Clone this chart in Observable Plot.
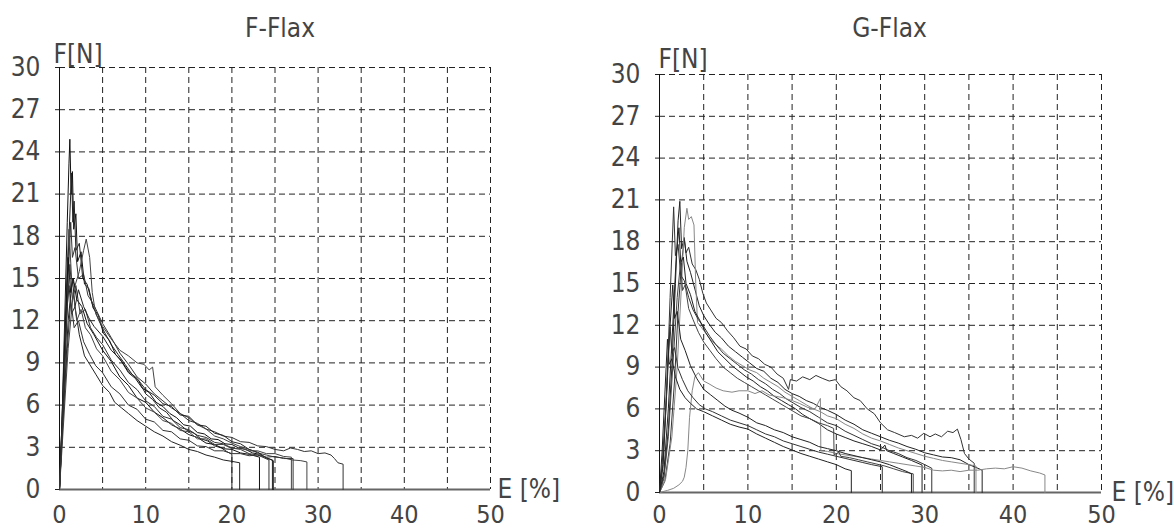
<!DOCTYPE html>
<html><head><meta charset="utf-8">
<script src="https://cdn.jsdelivr.net/npm/d3@7"></script>
<script src="https://cdn.jsdelivr.net/npm/@observablehq/plot@0.6"></script>
<style>
body{margin:0;background:#fff;}
#wrap{position:relative;width:1174px;height:531px;overflow:hidden;}
#wrap svg{position:absolute;top:0;}
</style></head><body><div id="wrap"></div>
<script>
// ---------- data ----------
const xTicks = [0, 10, 20, 30, 40, 50];
const yTicks = [0, 3, 6, 9, 12, 15, 18, 21, 24, 27, 30];
const xGrid = [5, 10, 15, 20, 25, 30, 35, 40, 45, 50];
const yGrid = [3, 6, 9, 12, 15, 18, 21, 24, 27, 30];
const titles = ["F-Flax", "G-Flax"];
const yLabel = "F[N]";
const xLabel = "E [%]";

// F-Flax specimens: [strain %, force N]
const f1 = [[0,0],[0.3,5],[0.6,12],[0.9,19],[1.1,23.2],[1.2,24.9],[1.35,21],[1.5,22.6],[1.65,18.5],[1.9,19.6],[2.1,16.2],[2.5,16.9],[2.9,14.6],[3.4,14.3],[3.9,12.9],[4.5,12.4],[5.1,11.1],[5.8,10.6],[6.5,9.6],[7.2,9.1],[8,8.3],[8.8,7.9],[9.6,7.2],[10.4,6.9],[11.2,6.2],[12,5.9],[12.8,5.4],[13.6,5.1],[14.4,4.6],[15.2,4.5],[16,4.05],[16.8,3.95],[17.6,3.6],[18.4,3.55],[19.2,3.25],[20,3.2],[20.8,2.95],[21.6,2.85],[22.4,2.6],[23.2,2.5],[24,2.25],[24.8,2.05],[24.8,0]];
const f2 = [[0,0],[0.4,6],[0.8,13],[1.1,18],[1.4,22.5],[1.55,19],[1.7,20.5],[1.9,17],[2.3,17.5],[2.7,15],[3.2,14.6],[3.8,13.2],[4.5,12.1],[5.2,11.2],[6,10.3],[6.8,9.6],[7.6,8.9],[8.4,8.2],[9.2,7.7],[10,6.8],[10.8,6.4],[11.6,5.8],[12.4,5.5],[13.2,4.9],[14,4.6],[14.8,4.2],[15.6,4.0],[16.4,3.6],[17.2,3.45],[18,3.1],[18.8,2.95],[19.4,2.7],[20,2.5],[20,0]];
const f3 = [[0,0],[0.3,4],[0.7,10],[1,15],[1.3,19],[1.5,16.5],[1.8,17.2],[2.2,15],[2.8,15.3],[3.3,13.8],[4,13.1],[5,11.8],[6,10.8],[7,9.7],[8,8.9],[9,8.0],[10,7.5],[11,6.8],[12,6.3],[13,5.8],[14,5.4],[15,4.9],[16,4.7],[17,4.3],[18,4.1],[19,3.8],[20,3.7],[21,3.4],[22,3.35],[23,3.1],[24,3.05],[25,2.85],[26,2.75],[26.8,2.95],[27.6,2.85],[28.4,2.7],[29.2,2.75],[30,2.55],[30.8,2.6],[31.5,2.45],[31.9,2.2],[32.3,1.9],[32.9,1.8],[32.9,0]];
const f4 = [[0,0],[0.3,5],[0.6,11],[0.9,16],[1.1,18.5],[1.4,15],[1.8,14.5],[2.3,15.5],[2.8,17],[3.1,17.8],[3.5,16.5],[3.8,14],[4.2,12.5],[5,11.6],[6,10.7],[7,9.9],[8,9.5],[9,9.0],[9.8,8.9],[10.4,8.5],[10.8,8.7],[11.1,7.3],[12,6.7],[13,6.1],[14,5.4],[15,5.1],[16,4.6],[17,4.3],[18,3.8],[19,3.6],[20,3.3],[21,3.05],[22,2.85],[23,2.6],[24,2.45],[25,2.3],[26,2.25],[27,2.1],[28,2.05],[28.7,1.96],[28.7,0]];
const f5 = [[0,0],[0.3,4],[0.6,9],[0.9,13],[1.1,14.5],[1.4,12.5],[1.8,13],[2.3,11],[2.9,9.5],[3.5,8.9],[4.2,8.2],[5,7.4],[5.8,6.9],[6.4,6.2],[7.2,5.8],[8,5.4],[9,4.9],[10,4.5],[11,4.1],[12,3.8],[13,3.4],[14,3.15],[15,2.85],[16,2.7],[17,2.45],[18,2.3],[19,2.1],[20,2.0],[20.9,1.9],[20.9,0]];
const f6 = [[0,0],[0.3,5],[0.7,12],[1,16.5],[1.3,14],[1.6,15],[2,13.5],[2.6,13],[3.2,11.8],[4,11],[5,9.9],[6,9.1],[7,8.0],[8,7.4],[9,6.5],[10,6.2],[11,5.5],[12,5.1],[13,4.6],[14,4.3],[15,3.9],[16,3.7],[17,3.3],[18,3.2],[19,2.9],[20,2.85],[21,2.6],[22,2.5],[23.2,2.3],[23.2,0]];
const f7 = [[0,0],[0.4,6],[0.8,12],[1.2,16],[1.5,13.5],[1.9,14.5],[2.4,12.5],[3,12.8],[3.6,11.5],[4.3,10.8],[5,10.3],[6,9.2],[7,8.5],[8,7.6],[9,7.1],[10,6.3],[11,5.9],[12,5.2],[13,5.0],[14,4.4],[15,4.25],[16,3.85],[17,3.7],[18,3.35],[19,3.25],[20,2.95],[21,2.85],[22,2.55],[23,2.45],[24.3,2.1],[24.3,0]];
const f8 = [[0,0],[0.5,6],[1,12],[1.5,15],[1.8,13],[2.2,14.2],[2.8,13],[3.4,12.2],[4,11.6],[5,10.9],[6,9.9],[7,9.3],[8,8.4],[9,7.9],[10,7.1],[11,6.7],[12,6.1],[13,5.9],[14,5.3],[15,5.2],[16,4.6],[17,4.5],[18,4.0],[19,3.85],[20,3.4],[21,3.25],[22,2.85],[23,2.65],[24,2.25],[24.7,2.1],[24.7,0]];
const f9 = [[0,0],[0.5,5],[1,10],[1.6,14],[2,12],[2.5,12.8],[3,11.5],[3.6,11],[4.3,10],[5,9.5],[6,8.4],[7,7.8],[8,6.9],[9,6.5],[10,5.8],[11,5.5],[12,4.9],[13,4.7],[14,4.2],[15,4.1],[16,3.6],[17,3.6],[18,3.2],[19,3.2],[20,2.9],[21,2.95],[22,2.75],[23,2.75],[24,2.55],[25,2.55],[26,2.35],[26.9,2.3],[26.9,0]];
const f10 = [[0,0],[0.4,5],[0.9,10],[1.3,13.5],[1.7,11.5],[2.2,12],[2.8,10.5],[3.5,9.6],[4.2,8.8],[5,8.3],[6,7.3],[7,6.8],[8,6.0],[9,5.7],[10,5.0],[11,4.8],[12,4.2],[13,4.1],[14,3.6],[15,3.5],[16,3.1],[17,3.05],[18,2.75],[19,2.75],[20,2.55],[21,2.55],[22,2.4],[23,2.45],[24,2.3],[25,2.35],[26,2.2],[27.1,2.2],[27.1,0]];
const fFlax = [f1, f2, f3, f4, f5, f6, f7, f8, f9, f10];

// G-Flax specimens
const g1 = [[0,0],[0.6,0.8],[1.2,3.5],[1.7,8],[2.1,13],[2.5,16.5],[2.8,18.2],[3,17.2],[3.3,17.6],[3.7,16.4],[4.1,16],[4.5,15.3],[4.9,14.3],[5.3,13.6],[5.8,13.1],[6.4,12.5],[7,12.2],[7.7,11.6],[8.4,11.1],[9.1,10.5],[9.8,10.3],[10.5,9.8],[11.2,9.6],[11.9,9.2],[12.6,9.0],[13.3,8.5],[14,8.2],[14.6,7.4],[14.8,8.1],[15.5,8.0],[16.2,8.3],[17,8.1],[17.7,8.4],[18.4,8.2],[19.2,8.0],[19.9,8.1],[20.5,7.6],[21.2,7.3],[22,6.8],[22.7,6.6],[23.5,6.0],[24.3,5.65],[25,5.0],[25.8,4.5],[26.6,4.3],[27.7,4.0],[28.5,4.1],[29.2,3.9],[29.9,4.25],[30.6,4.0],[31.2,4.2],[31.9,4.0],[32.6,4.4],[33.2,4.3],[33.7,4.55],[34.1,3.8],[34.5,2.8],[35,2.4],[35.6,2.1],[35.6,0]];
const g2 = [[0,0],[0.5,1.2],[1,4.5],[1.4,9],[1.8,15],[2.1,19.5],[2.3,20.9],[2.5,17.5],[2.8,18.3],[3.1,16.6],[3.5,15.8],[4,14.6],[4.5,13.4],[5,12.7],[5.6,12.1],[6.3,11.5],[7,11.1],[7.8,10.5],[8.6,10.1],[9.4,9.7],[10.2,9.3],[11,8.9],[11.8,8.7],[12.6,8.2],[13.4,7.9],[14.2,7.4],[15,7.1],[15.8,6.9],[16.6,6.6],[17.4,6.4],[18.2,6.1],[19,5.9],[20,5.6],[21,5.2],[22,4.9],[23,4.5],[24,4.25],[25,4.0],[26,3.75],[27,3.55],[28,3.3],[29,3.1],[30,2.85],[31,2.7],[32,2.55],[33,2.5],[34,2.35],[35,2.0],[35.8,1.8],[36.5,1.6],[36.5,0]];
const g3 = [[0,0],[0.7,1],[1.4,4],[2,9],[2.5,15],[2.8,19],[3.1,20.4],[3.3,19.6],[3.6,19.8],[3.9,19.2],[4.1,15],[4.3,12.2],[4.8,11.8],[5.5,11.2],[6.2,10.7],[7,10.3],[7.8,9.8],[8.6,9.4],[9.4,9.1],[10.2,8.8],[11,8.6],[11.8,8.2],[12.6,7.9],[13.4,7.6],[14.2,7.2],[15,6.9],[15.8,6.6],[16.6,6.3],[17.4,6.0],[18.2,5.8],[19,5.5],[20,5.3],[21,4.9],[22,4.6],[23,4.2],[24,3.9],[25,3.7],[26,3.45],[27,3.2],[28,3.0],[29,2.8],[30,2.6],[31,2.45],[32,2.3],[33,2.2],[34,2.1],[35,2.0],[35.8,1.9],[35.8,0]];
const g4 = [[0,0],[0.4,2],[0.8,7],[1.2,14],[1.6,20.5],[1.8,17],[2.1,17.8],[2.4,15.6],[2.8,15.2],[3.3,14],[3.8,13.1],[4.4,12.4],[5,11.9],[5.7,11.2],[6.4,10.6],[7.2,10.0],[8,9.6],[8.8,9.2],[9.6,8.8],[10.4,8.5],[11.2,8.1],[12,7.8],[12.8,7.4],[13.6,7.1],[14.4,6.7],[15.2,6.4],[16,6.1],[17,5.8],[18,5.4],[19,5.0],[20,4.8],[21,4.4],[22,4.1],[23,3.8],[24,3.5],[25,3.3],[26,3.0],[27,2.8],[28,2.5],[29,2.3],[30,2.0],[30.8,1.74],[30.8,0]];
const g5 = [[0,0],[0.5,1.5],[1,6],[1.5,12],[1.9,17],[2.2,19],[2.4,16.5],[2.7,16.9],[3,15],[3.5,14.2],[4,13],[4.6,12.3],[5.2,11.5],[5.9,10.8],[6.6,10.1],[7.4,9.6],[8.2,9.1],[9,8.7],[9.8,8.3],[10.6,8.0],[11.4,7.6],[12.2,7.3],[13,6.9],[13.8,6.6],[14.6,6.3],[15.4,6.0],[16.2,5.6],[17,5.3],[18,4.95],[19,4.5],[20,4.2],[21,3.95],[22,3.7],[23,3.5],[24,3.3],[25,3.05],[25.5,3.4],[25.7,3.0],[26.5,2.8],[27.5,2.55],[28.5,2.3],[29.7,1.97],[29.7,0]];
const g6 = [[0,0],[0.9,0.15],[1.6,0.3],[2.2,0.55],[2.6,0.8],[2.8,1.1],[3.0,1.8],[3.2,3],[3.4,5.4],[3.7,7.3],[4.0,8.3],[4.4,8.6],[5,8.0],[5.6,7.8],[6.4,7.5],[7.2,7.3],[8.2,7.2],[9,7.3],[10,7.3],[10.8,7.1],[11.6,7.3],[12.4,7.0],[13.2,6.9],[14,6.8],[15,6.6],[15.8,6.4],[16.8,6.1],[17.6,6.0],[18.2,6.75],[18.25,3.0],[19,2.95],[20,2.8],[21,2.7],[22,2.6],[23,2.5],[24,2.4],[25,2.3],[26,2.2],[27,2.1],[28,2.0],[29,1.9],[30,1.8],[31,1.6],[32,1.55],[33,1.6],[34,1.5],[35,1.6],[36,1.6],[37,1.7],[38,1.75],[39,1.7],[40,1.85],[41,1.75],[42,1.55],[43,1.4],[43.6,1.26],[43.6,0]];
const g7 = [[0,0],[0.5,1],[1,4],[1.5,9],[2,14],[2.4,16.6],[2.6,14.5],[2.9,14.9],[3.3,13.2],[3.8,12.4],[4.4,11.5],[5,10.8],[5.7,10.2],[6.4,9.6],[7.2,9.0],[8,8.6],[8.8,8.2],[9.6,7.9],[10.4,7.6],[11.2,7.3],[12,7.0],[12.8,6.7],[13.6,6.4],[14.4,6.1],[15.2,5.8],[16,5.5],[17,5.3],[18,5.0],[19,4.8],[19.7,4.6],[19.75,2.7],[20.3,2.9],[20.5,2.6],[21.5,2.5],[22.5,2.35],[23.5,2.2],[24.5,2.05],[25.5,1.9],[26.5,1.7],[27.5,1.5],[28.7,1.34],[28.7,0]];
const g8 = [[0,0],[0.4,2],[0.8,7],[1.2,12],[1.5,14.9],[1.7,12.5],[2,13],[2.4,11],[2.9,10.2],[3.5,9.1],[4.2,8.2],[5,7.4],[5.8,7.0],[6.6,6.6],[7.4,6.2],[8.2,5.9],[9,5.7],[10,5.4],[11,5.0],[12,4.8],[13,4.5],[14,4.3],[15,4.0],[16,3.8],[17,3.6],[18,3.3],[19,3.15],[20,3.0],[21,2.8],[22,2.65],[23,2.5],[24,2.35],[25,2.2],[26,2.0],[27,1.75],[28,1.5],[28.5,1.34],[28.5,0]];
const g9 = [[0,0],[0.3,2],[0.7,6],[1,10],[1.2,11.9],[1.4,10],[1.7,10.4],[2.1,8.9],[2.6,8.1],[3.2,7.3],[3.8,6.8],[4.5,6.3],[5.2,6.0],[6,5.8],[7,5.5],[8,5.2],[9,5.0],[10,4.8],[11,4.5],[12,4.2],[13,4.0],[14,3.7],[15,3.5],[16,3.3],[17,3.1],[18,2.9],[19,2.75],[20,2.6],[21,2.45],[22,2.3],[23,2.15],[24,2.0],[25.2,1.85],[25.2,0]];
const g10 = [[0,0],[0.3,3],[0.6,7],[0.9,11],[1.1,9.2],[1.4,9.6],[1.8,8.3],[2.3,7.4],[2.9,6.8],[3.5,6.4],[4.2,6.0],[5,5.8],[6,5.5],[7,5.2],[8,4.9],[9,4.7],[10,4.55],[11,4.2],[12,3.9],[13,3.6],[14,3.3],[15,3.05],[16,2.8],[17,2.6],[18,2.4],[19,2.2],[20,2.0],[21,1.7],[21.7,1.57],[21.7,0]];
const gFlax = [g1, g2, g3, g4, g5, g6, g7, g8, g9, g10];

// ---------- styles ----------
const fStroke = ["#111", "#222", "#333", "#444", "#222", "#111", "#333", "#222", "#444", "#333"];
const gStroke = ["#333", "#222", "#888", "#333", "#222", "#888", "#444", "#222", "#333", "#222"];
const FONT = "'Liberation Sans Narrow','DejaVu Sans Condensed','Roboto Condensed',sans-serif";

function panel(curves, strokes, title, o) {
  const marks = [
    Plot.ruleY(yGrid, {stroke: "#222", strokeWidth: 1, strokeDasharray: "6,4"}),
    Plot.ruleX(xGrid, {stroke: "#222", strokeWidth: 1, strokeDasharray: "6,4"}),
    Plot.axisY({ticks: yTicks, tickSize: 4, tickPadding: 15, fontSize: 26, label: null, stroke: "#222"}),
    Plot.axisX({ticks: xTicks, tickSize: 0, tickPadding: o.xpad, fontSize: 25, label: null}),
    Plot.ruleY([0], {stroke: "#666", strokeWidth: 2}),
    Plot.ruleX([0], {stroke: "#111", strokeWidth: 1})
  ];
  curves.forEach((c, i) => {
    marks.push(Plot.line(c, {x: d => d[0], y: d => d[1], stroke: strokes[i], strokeWidth: 1, strokeLinejoin: "miter"}));
  });
  marks.push(
    Plot.text([title], {frameAnchor: "top", dx: o.tdx, dy: o.tdy, fontSize: 26, lineAnchor: "middle", fill: "#444"}),
    Plot.text([yLabel], {frameAnchor: "top-left", dx: o.ydx, dy: o.ydy, fontSize: 26, textAnchor: "start", lineAnchor: "bottom", fill: "#444"}),
    Plot.text([xLabel], {frameAnchor: "bottom-right", dx: o.xdx, dy: 0, fontSize: 26, textAnchor: "start", lineAnchor: "middle", fill: "#444"})
  );
  const svg = Plot.plot({
    width: o.width, height: 531,
    marginLeft: o.ml, marginRight: o.mr, marginTop: o.mt, marginBottom: o.mb,
    x: {domain: [0, 50]}, y: {domain: [0, 30]},
    style: {fontFamily: FONT, color: "#444", background: "transparent", overflow: "visible"},
    marks
  });
  svg.style.left = o.left + "px";
  return svg;
}

const wrap = document.getElementById("wrap");
wrap.appendChild(panel(fFlax, fStroke, titles[0], {left: 0, width: 590, ml: 59, mr: 100, mt: 67, mb: 42, tdx: 5, tdy: -39, ydx: -6, ydy: -5, xdx: 7, xpad: 16}));
wrap.appendChild(panel(gFlax, gStroke, titles[1], {left: 590, width: 584, ml: 69, mr: 73, mt: 74, mb: 39, tdx: 9, tdy: -46, ydx: -1, ydy: -7, xdx: 10, xpad: 13}));
</script></body></html>
